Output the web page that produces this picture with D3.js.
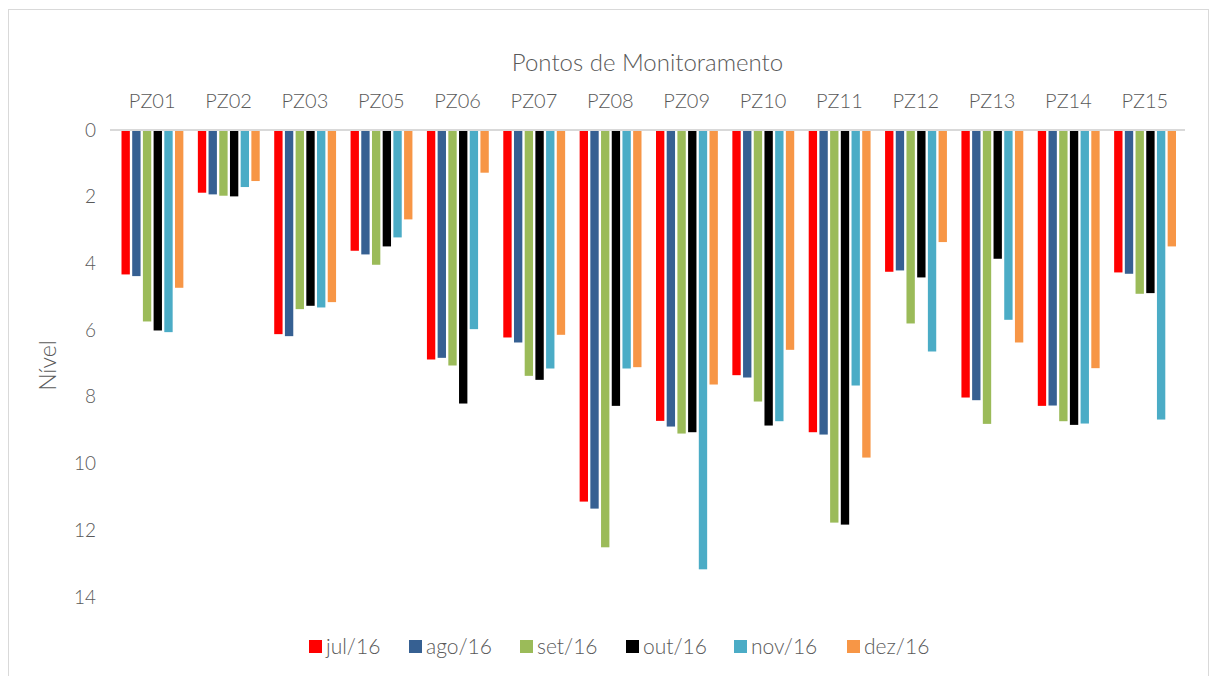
<!DOCTYPE html>
<html>
<head>
<meta charset="utf-8">
<script src="https://cdn.jsdelivr.net/npm/d3@7"></script>
<style>
  body { margin: 0; background: #fff; }
  text { font-family: Lato, "Open Sans", sans-serif; fill: #595959; font-weight: 300; }
</style>
</head>
<body>
<div id="vis"></div>
<script>
// chart data
const categories = ["PZ01","PZ02","PZ03","PZ05","PZ06","PZ07","PZ08","PZ09","PZ10","PZ11","PZ12","PZ13","PZ14","PZ15"];
const series = ["jul/16","ago/16","set/16","out/16","nov/16","dez/16"];
const jul16 = [4.33,1.88,6.12,3.62,6.88,6.22,11.14,8.72,7.35,9.06,4.25,8.02,8.27,4.27];
const ago16 = [4.38,1.93,6.18,3.73,6.83,6.37,11.35,8.89,7.42,9.13,4.21,8.10,8.26,4.31];
const set16 = [5.74,1.97,5.37,4.04,7.06,7.37,12.51,9.10,8.14,11.77,5.80,8.81,8.73,4.91];
const out16 = [6.01,1.99,5.27,3.49,8.20,7.49,8.27,9.06,8.86,11.83,4.42,3.86,8.84,4.89];
const nov16 = [6.06,1.71,5.32,3.22,5.97,7.15,7.15,13.17,8.73,7.66,6.64,5.69,8.80,8.68];
const dez16 = [4.73,1.53,5.16,2.68,1.28,6.14,7.11,7.63,6.59,9.82,3.36,6.37,7.14,3.49];
const yTicks = [0,2,4,6,8,10,12,14];
const colors = ["#FF0000","#366092","#9BBB59","#000000","#4BACC6","#F79646"];

const values = [jul16, ago16, set16, out16, nov16, dez16];
const data = categories.map((c, i) => ({
  cat: c,
  vals: series.map((s, j) => ({ s: s, v: values[j][i] }))
}));

const WIDTH = 1218, HEIGHT = 676;
const PLOT = {left: 114, right: 1183, top: 130, bottom: 597};

const svg = d3.select("#vis").append("svg")
  .attr("width", WIDTH)
  .attr("height", HEIGHT);

// outer frame
svg.append("rect")
  .attr("x", 8.5).attr("y", 9.5)
  .attr("width", 1200).attr("height", 700)
  .attr("fill", "none")
  .attr("stroke", "#d9d9d9");

const x0 = d3.scaleBand()
  .domain(categories)
  .range([PLOT.left, PLOT.right]);

const x1 = d3.scaleBand()
  .domain(series)
  .range([7.5, x0.bandwidth() - 7])
  .paddingInner(0.22);

const y = d3.scaleLinear()
  .domain([0, 14])
  .range([PLOT.top, PLOT.bottom]);

const color = d3.scaleOrdinal().domain(series).range(colors);

// bars hang down from the zero line
svg.append("g").selectAll("g")
  .data(data)
  .join("g")
    .attr("transform", d => `translate(${x0(d.cat)},0)`)
  .selectAll("rect")
  .data(d => d.vals)
  .join("rect")
    .attr("x", d => x1(d.s))
    .attr("y", y(0))
    .attr("width", x1.bandwidth())
    .attr("height", d => y(d.v) - y(0))
    .attr("fill", d => color(d.s));

// zero line
svg.append("line")
  .attr("x1", PLOT.left - 4).attr("x2", PLOT.right + 2)
  .attr("y1", y(0)).attr("y2", y(0))
  .attr("stroke", "#d9d9d9")
  .attr("stroke-width", 2);

// y axis
const yAxis = svg.append("g")
  .attr("transform", `translate(${PLOT.left - 18},0)`)
  .call(d3.axisLeft(y).tickValues(yTicks).tickSize(0).tickPadding(0));
yAxis.select(".domain").remove();
yAxis.selectAll("text")
  .attr("font-size", 19)
  .style("font-family", "Lato, 'Open Sans', sans-serif")
  .attr("fill", "#595959");

// category labels on top
const xAxis = svg.append("g")
  .attr("transform", `translate(0,${PLOT.top - 22})`)
  .call(d3.axisTop(x0).tickSize(0).tickPadding(0));
xAxis.select(".domain").remove();
xAxis.selectAll("text")
  .attr("font-size", 20)
  .style("font-family", "Lato, 'Open Sans', sans-serif")
  .attr("fill", "#595959");

// titles
svg.append("text")
  .attr("x", (PLOT.left + PLOT.right) / 2 - 1)
  .attr("y", 71)
  .attr("text-anchor", "middle")
  .attr("font-size", 24)
  .text("Pontos de Monitoramento");

svg.append("text")
  .attr("transform", `translate(56,${(PLOT.top + PLOT.bottom) / 2 + 2}) rotate(-90)`)
  .attr("text-anchor", "middle")
  .attr("font-size", 23)
  .text("Nível");

// legend
const legendX = [309, 409, 520, 626, 734, 847];
const legend = svg.append("g").selectAll("g")
  .data(series)
  .join("g")
    .attr("transform", (d, i) => `translate(${legendX[i]},640)`);
legend.append("rect")
  .attr("width", 13).attr("height", 13)
  .attr("fill", d => color(d));
legend.append("text")
  .attr("x", 17).attr("y", 14)
  .attr("font-size", 21)
  .text(d => d);
</script>
</body>
</html>
